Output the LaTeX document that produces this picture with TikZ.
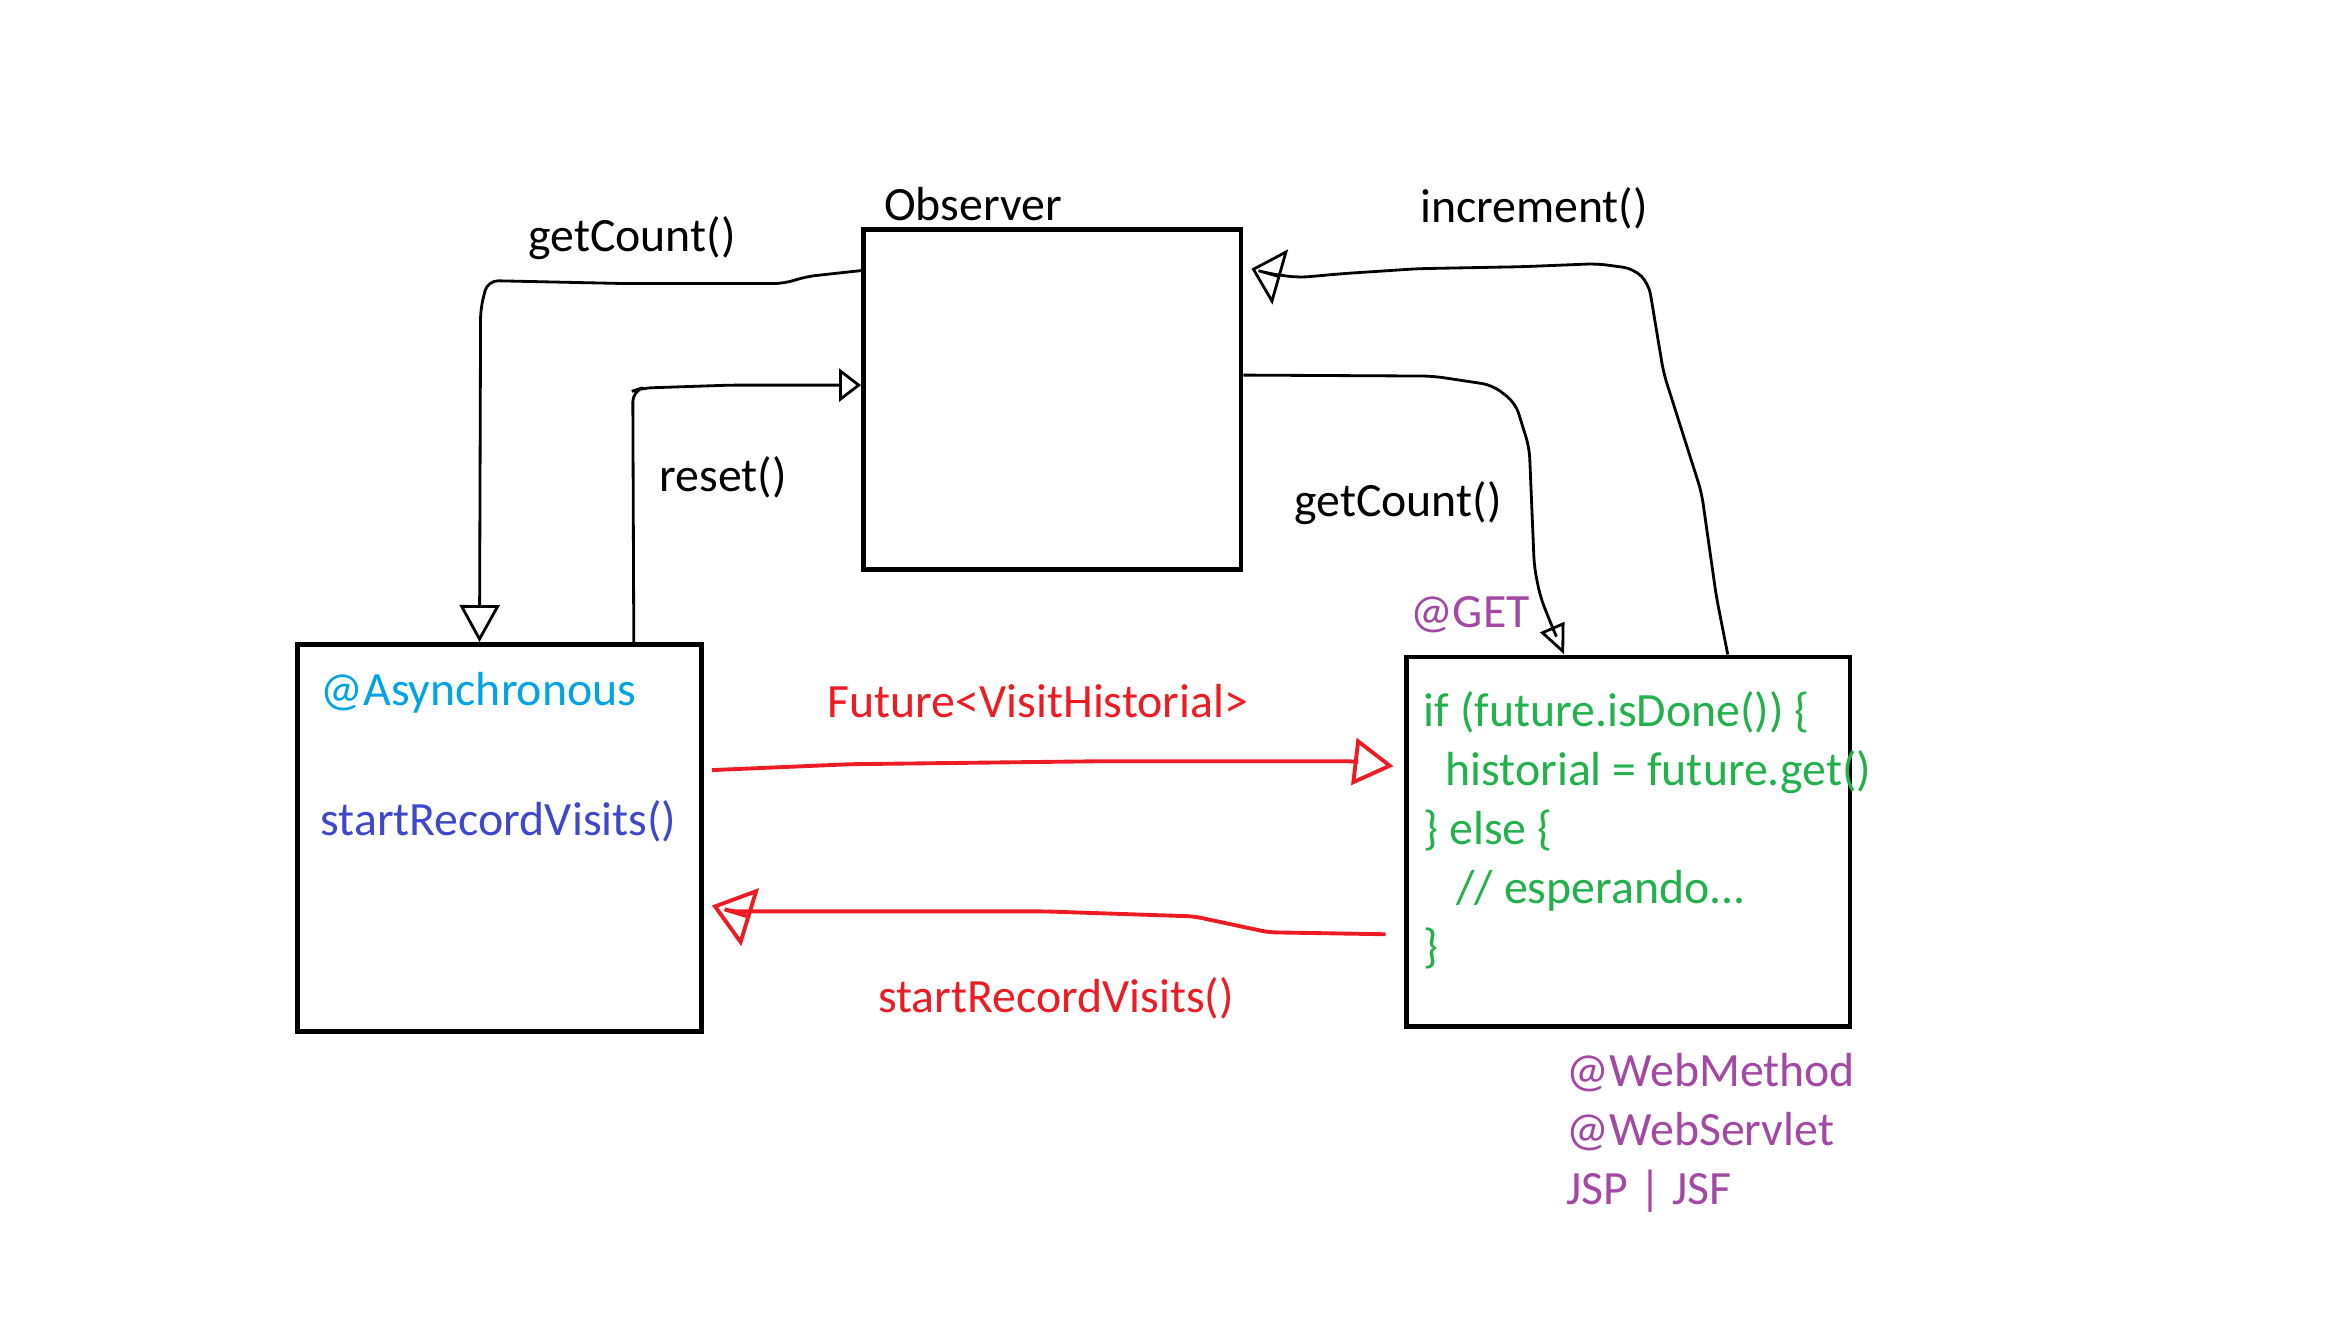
\documentclass[tikz,border=0pt]{standalone}
\usepackage{fontspec}
\setmainfont{Carlito}
\usepackage{tikz}
\usetikzlibrary{arrows.meta, positioning, calc}
\definecolor{paintred}{RGB}{237,28,36}
\definecolor{paintgreen}{RGB}{34,177,76}
\definecolor{paintblue}{RGB}{63,72,204}
\definecolor{paintcyan}{RGB}{0,162,232}
\definecolor{paintpurple}{RGB}{163,73,164}

\begin{document}
\begin{tikzpicture}[
                box/.style={draw, line width=1.4pt, inner sep=0pt},
                txt/.style={inner sep=0pt, font=\fontsize{13.6}{16.8}\selectfont},
                wire/.style={line width=0.8pt, rounded corners=3pt},
                redwire/.style={draw=paintred, line width=1.1pt, rounded corners=2pt}]

                \useasboundingbox (0,0) rectangle (23.41,-13.23);

                % Observer (top)
                \node[box, minimum width=3.775cm, minimum height=3.40cm] at (10.5225,-3.995) (obs) {};
                \node[txt] at (9.73,-2.04) (obstitle) {Observer};

                % Asynchronous bean (left)
                \node[box, minimum width=4.04cm, minimum height=3.87cm] at (4.995,-8.38) (async) {};
                \node[txt, text=paintcyan, anchor=west] at (3.20,-6.925) (asyncann) {@Asynchronous};
                \node[txt, text=paintblue, anchor=west] at (3.20,-8.21) (asyncop) {startRecordVisits()};

                % Web resource (right)
                \node[box, minimum width=4.435cm, minimum height=3.695cm] at (16.2825,-8.4175) (web) {};
                \node[txt, text=paintgreen, anchor=west, align=left] at (14.23,-8.30) (code) {%
                    if (future.isDone()) \{\\
                    \hspace*{6.2pt}historial = future.get()\\
                    \} else \{\\
                    \hspace*{9.3pt}// esperando...\\
                    \}};
                \node[txt, text=paintpurple] at (14.70,-6.15) (getann) {@GET};
                \node[txt, text=paintpurple, anchor=west, align=left] at (15.66,-11.33) (webkinds) {%
                    @WebMethod\\ @WebServlet\\ JSP | JSF};

                % Observer calls
                \draw[wire, -{Triangle[open, length=3.7mm, width=4mm]}]
                    ([yshift=1.289cm]obs.west) -- (8.06,-2.766) -- (7.84,-2.836) -- (6.27,-2.836)
                    -- (4.876,-2.806) -- (4.806,-3.085) -- ([xshift=-2mm]async.north);
                \node[txt] at (6.32,-2.38) (getleft) {getCount()};

                \draw[wire, -{Triangle[open, length=2.2mm, width=3.3mm]}]
                    ([xshift=1.343cm]async.north) -- (6.328,-3.91) -- (6.418,-3.881) -- (7.313,-3.851)
                    -- ([yshift=0.144cm]obs.west);
                \node[txt] at (7.23,-4.77) (resetlbl) {reset()};

                \draw[wire, -{Triangle[open, length=3mm, width=5.7mm]}]
                    ([xshift=0.995cm]web.north) -- (17.164,-5.97) -- (17.015,-4.925) -- (16.636,-3.731)
                    -- (16.487,-2.836) -- (16.338,-2.687) -- (15.97,-2.637) -- (15.224,-2.667)
                    -- (14.179,-2.687) -- (13.433,-2.736) -- (12.985,-2.776) -- (12.686,-2.736)
                    -- ([xshift=0.08cm, yshift=1.308cm]obs.east);
                \node[txt] at (15.34,-2.08) (inclbl) {increment()};

                \draw[wire, -{Triangle[open, length=3mm, width=2.6mm]}]
                    ([yshift=0.244cm]obs.east) -- (14.328,-3.761) -- (14.925,-3.851) -- (15.154,-4.03)
                    -- (15.293,-4.478) -- (15.343,-5.672) -- (15.403,-5.97) -- (15.522,-6.269)
                    -- ([xshift=-0.641cm]web.north);
                \node[txt] at (13.98,-5.03) (getright) {getCount()};

                % Async call and result
                \draw[redwire, -{Triangle[open, length=4mm, width=4.7mm]}]
                    ([xshift=0.08cm, yshift=0.679cm]async.east) -- (8.507,-7.642) -- (11.045,-7.612)
                    -- (13.512,-7.612) -- ([xshift=-0.105cm, yshift=0.756cm]web.west);
                \node[txt, text=paintred] at (10.38,-7.01) (futurelbl) {Future<VisitHistorial>};

                \draw[redwire, -{Triangle[open, length=4mm, width=6mm]}]
                    ([xshift=-0.185cm, yshift=-0.925cm]web.west) -- (12.686,-9.323) -- (11.94,-9.164)
                    -- (10.448,-9.114) -- (7.313,-9.114) -- ([xshift=0.08cm, yshift=-0.675cm]async.east);
                \node[txt, text=paintred] at (10.56,-9.98) (startlbl) {startRecordVisits()};
            \end{tikzpicture}
\end{document}
